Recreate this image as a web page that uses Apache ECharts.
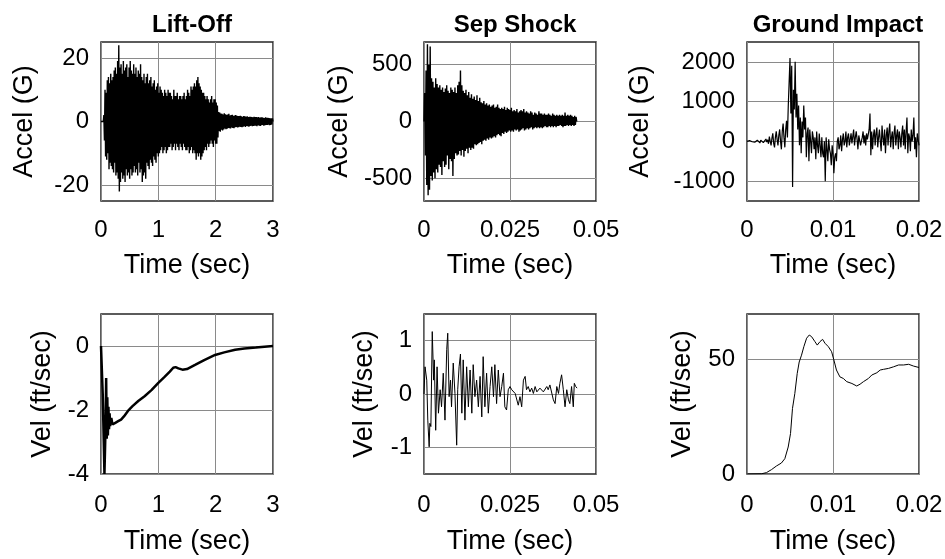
<!DOCTYPE html>
<html><head><meta charset="utf-8">
<script src="https://cdn.jsdelivr.net/npm/echarts@6/dist/echarts.min.js"></script>
<style>html,body{margin:0;padding:0;background:#fff}#c{width:945px;height:559px}</style>
</head><body><div id="c"></div>
<script>
// ---------- texts ----------
const titles = ['Lift-Off', 'Sep Shock', 'Ground Impact'];
const yNamesTop = 'Accel (G)';
const yNamesBottom = 'Vel (ft/sec)';
const xName = 'Time (sec)';

// ---------- axis ranges and tick labels ----------
const xRanges = [[0, 3], [0, 0.05], [0, 0.02]];
const xSteps = [1, 0.025, 0.01];
const yRangesTop = [[-25, 25], [-700, 700], [-1500, 2500]];
const yTicksTop = [[-20, 0, 20], [-500, 0, 500], [-1000, 0, 1000, 2000]];
const yRangesBottom = [[-4, 1], [-1.5, 1.5], [0, 70]];
const yTicksBottom = [[-4, -2, 0], [-1, 0, 1], [0, 50]];

// ---------- data ----------
// Lift-Off acceleration (G), sampled every 0.01 s from t = 0
const liftoffAccelDt = 0.01;
const liftoffAccel = [
  0, 0, 0, 0, 0, 2, -6, 10, -11, 9,
  -12, 13, -10, 14, -15, 12, -13, 15, -14, 13,
  -15, 14, -16, 16, -13, 17, -17, 15, -16, 19,
  -18, 24, -22, 17, -19, 18, -16, 15, -18, 19,
  -17, 16, -19, 17, -15, 18, -17, 14, -16, 17,
  -18, 19, -15, 16, -17, 15, -16, 18, -14, 15,
  -16, 17, -15, 14, -17, 16, -13, 15, -16, 18,
  -15, 14, -19, 13, -17, 15, -16, 12, -18, 14,
  -13, 15, -14, 12, -15, 13, -12, 14, -13, 11,
  -14, 12, -11, 13, -12, 10, -13, 11, -10, 12,
  -11, 9, -10, 11, -9, 10, -8, 9, -10, 8,
  -9, 10, -8, 9, -10, 8, -9, 10, -8, 9,
  -8, 9, -7, 8, -9, 7, -8, 10, -7, 8,
  -9, 8, -7, 9, -8, 7, -9, 8, -7, 8,
  -8, 7, -9, 8, -7, 9, -8, 7, -9, 8,
  -9, 10, -8, 9, -10, 8, -9, 11, -8, 10,
  -10, 11, -9, 12, -10, 11, -12, 13, -10, 14,
  -11, 12, -10, 11, -12, 10, -11, 9, -10, 9,
  -9, 8, -8, 7, -9, 8, -7, 7, -8, 6,
  -7, 7, -6, 8, -7, 6, -8, 7, -6, 7,
  -7, 6, -7, 5, -5, 3, -3, 2.8, -3.2, 2.5,
  -2.6, 2.4, -2.8, 2.2, -2.5, 2.6, -2.2, 2.3, -2.4, 2.1,
  -2.3, 2.2, -2.0, 2.4, -2.1, 1.9, -2.2, 2.0, -1.9, 2.1,
  -2.0, 1.8, -2.1, 1.9, -1.8, 2.0, -1.7, 1.8, -1.9, 1.7,
  -1.8, 1.7, -1.6, 1.8, -1.7, 1.6, -1.8, 1.5, -1.6, 1.7,
  -1.5, 1.6, -1.7, 1.5, -1.4, 1.6, -1.5, 1.4, -1.6, 1.5,
  -1.4, 1.5, -1.3, 1.4, -1.5, 1.3, -1.4, 1.5, -1.3, 1.4,
  -1.3, 1.4, -1.5, 1.3, -1.2, 1.4, -1.3, 1.2, -1.4, 1.3,
  -1.2, 1.3, -1.1, 1.2, -1.3, 1.1, -1.2, 1.3, -1.1, 1.2,
  -1.1, 1.2, -1.0, 1.1, -1.2, 1.0, -1.1, 1.0, -0.9, 1.0,
  0
];

// Sep Shock acceleration (G), sampled every 0.0002 s from t = 0
const sepAccelDt = 0.0002;
const sepAccel = [
  0, 250, -300, 450, -560, 680, -650, 500, -600, 660,
  -480, 380, -520, 350, -450, 300, -500, 380, -420, 330,
  -450, 300, -380, 320, -400, 280, -470, 300, -350, 260,
  -400, 290, -380, 320, -300, 270, -420, 250, -330, 300,
  -350, 280, -480, 260, -330, 300, -280, 250, -300, 320,
  -290, 350, -260, 450, -300, 320, -250, 270, -310, 250,
  -260, 280, -240, 230, -280, 260, -230, 210, -250, 240,
  -230, 200, -240, 220, -200, 190, -210, 230, -200, 180,
  -190, 210, -180, 170, -200, 160, -170, 180, -160, 150,
  -170, 160, -150, 140, -160, 150, -140, 130, -150, 140,
  -140, 150, -130, 120, -140, 130, -120, 150, -110, 120,
  -120, 110, -130, 120, -100, 110, -110, 130, -90, 100,
  -100, 120, -90, 110, -80, 100, -90, 120, -80, 90,
  -90, 100, -70, 90, -80, 110, -70, 80, -90, 90,
  -80, 100, -70, 90, -60, 110, -80, 80, -70, 90,
  -60, 80, -70, 70, -60, 90, -50, 80, -70, 60,
  -60, 80, -50, 70, -60, 60, -50, 90, -60, 70,
  -50, 70, -60, 60, -50, 70, -40, 60, -50, 60,
  -50, 70, -40, 60, -50, 50, -40, 70, -50, 60,
  -40, 50, -50, 60, -40, 50, -40, 60, -30, 50,
  -40, 60, -50, 50, -40, 80, -40, 50, -30, 60,
  -40, 50, -30, 60, -40, 50, -30, 40, -40, 50,
  -30, 40, 0
];

// Ground Impact acceleration (G), sampled every 0.0001 s from t = 0
const groundAccelDt = 0.0001;
const groundAccel = [
  0, 10, -20, 20, -30, 10, -10, -40, 20, -20, 10, -30, 30, -20, 10, -40, 30, -10, 20, -30,
  20, -40, 60, -20, 40, -60, 120, 0, -100, 80, 200, -50, -150, 100, 250, 50, -100, 150, 300, 0,
  -200, 250, 450, 100, -150, 300, 520, 100, 900, 1500, 2100, 700, 1900, -1150, 1300, 800, 2000, 600, 1200, 300,
  900, -100, 600, -300, 500, 100, 900, 300, 600, -400, 200, 350, -500, 300, 0, -300, 250, 100, -200, 100,
  -450, 250, -100, -300, 200, -100, -400, 100, -300, -400, 0, -1000, 100, -200, -500, 50, -200, -300, -600, -100,
  -300, -800, -400, -300, -500, 0, 100, -200, -100, 150, -250, 50, 200, -100, 0, 250, -150, 100, 200, -100,
  50, 200, -50, 0, 300, -100, 100, 250, 50, -200, 150, 200, -100, 0, 100, 250, -50, 150, -100, 200,
  50, 100, 300, 700, -350, 250, -200, 150, 300, -100, 200, 350, -150, 100, 300, 0, -250, 400, 100, -100,
  300, -300, 150, 350, -100, 250, 450, -150, 100, 250, -200, 200, 400, -100, 150, 300, -200, 250, 100, -150,
  200, 400, -100, 300, -200, 250, 600, -300, 200, 100, -250, 300, 0, 150, 600, -200, 100, -400, 200, 50, -100
];

// Lift-Off velocity (ft/sec): [time (s), vel]
const liftoffVel = [
  [0, 0], [0.03, -1.5], [0.06, -4.0], [0.08, -2.5], [0.09, -1.0], [0.1, -2.9], [0.11, -1.6], [0.12, -2.8],
  [0.13, -1.9], [0.14, -2.6], [0.15, -2.1], [0.16, -2.5], [0.18, -2.25], [0.2, -2.45], [0.25, -2.4],
  [0.3, -2.35], [0.35, -2.3], [0.4, -2.2], [0.47, -2.03], [0.55, -1.88], [0.65, -1.72], [0.76, -1.57],
  [0.88, -1.38], [1.0, -1.15], [1.1, -0.98], [1.2, -0.8], [1.26, -0.68], [1.3, -0.66], [1.35, -0.7],
  [1.42, -0.74], [1.5, -0.72], [1.64, -0.59], [1.8, -0.44], [1.99, -0.28], [2.15, -0.2], [2.34, -0.12],
  [2.5, -0.08], [2.7, -0.05], [2.85, -0.02], [3.0, 0]
];

// Sep Shock velocity (ft/sec): [time (s), vel]
const sepVel = [
  [0, 0], [0.0003, 0.51], [0.0008, 0.26], [0.0011, -0.49], [0.0015, -0.99], [0.0017, -0.55], [0.002, -0.61],
  [0.0024, 1.17], [0.0028, 0.26], [0.003, 0.64], [0.0034, -0.68], [0.0038, 0.51], [0.0042, -0.36],
  [0.0047, 0.08], [0.0051, -0.24], [0.0056, 0.39], [0.0061, -0.49], [0.0066, 0.83], [0.0069, 1.14],
  [0.0073, -0.05], [0.0077, 0.26], [0.008, -0.24], [0.0085, 0.58], [0.009, 0.01], [0.0095, -0.96],
  [0.0098, 0.08], [0.0102, 0.51], [0.0106, 0.75], [0.011, -0.36], [0.0114, 0.64], [0.0119, -0.49],
  [0.0124, 0.51], [0.0129, -0.24], [0.0134, 0.45], [0.0139, -0.36], [0.0143, 0.55], [0.0148, -0.05],
  [0.0153, 0.26], [0.0158, -0.24], [0.0163, 0.33], [0.0168, -0.43], [0.0172, 0.7], [0.0177, -0.24],
  [0.0182, 0.39], [0.0187, -0.36], [0.0192, 0.14], [0.0197, 0.51], [0.0202, -0.05], [0.0206, 0.55],
  [0.0211, -0.18], [0.0216, 0.45], [0.0221, -0.05], [0.0226, 0.14], [0.0231, 0.39], [0.0235, -0.24],
  [0.024, -0.3], [0.0245, 0.08], [0.025, 0.14], [0.0255, 0.08], [0.026, 0.11], [0.0265, 0.01],
  [0.0269, -0.02], [0.0274, -0.21], [0.0279, -0.05], [0.0284, -0.24], [0.0289, 0.26], [0.0294, 0.33],
  [0.0298, 0.08], [0.0303, 0.14], [0.0308, 0.04], [0.0313, 0.11], [0.0318, 0.01], [0.0323, 0.14],
  [0.0328, 0.04], [0.0332, 0.01], [0.0337, 0.11], [0.0342, 0.14], [0.0347, 0.04], [0.0352, 0.01],
  [0.0357, 0.14], [0.0361, 0.08], [0.0366, 0.17], [0.0371, 0.14], [0.0376, -0.11], [0.0381, -0.18],
  [0.0386, 0.14], [0.0391, 0.01], [0.0395, 0.2], [0.04, 0.36], [0.0405, 0.08], [0.041, -0.24],
  [0.0415, 0.08], [0.042, -0.11], [0.0424, -0.18], [0.0429, 0.14], [0.0434, -0.24], [0.0437, 0.2],
  [0.0441, 0.14], [0.0445, 0.11]
];

// Ground Impact velocity (ft/sec): [time (s), vel]
const groundVel = [
  [0, 0], [0.0017, 0.1], [0.00226, 0.6], [0.00284, 1.9], [0.00342, 3.5], [0.004, 4.8], [0.0044, 6.7],
  [0.00479, 11.8], [0.00506, 17.7], [0.00529, 28.7], [0.00556, 35.2], [0.00584, 44], [0.00607, 49],
  [0.00634, 52], [0.00661, 55.7], [0.00693, 59.4], [0.00724, 60.8], [0.00751, 60.1], [0.0079, 57.9],
  [0.00817, 56.4], [0.00848, 57.9], [0.00879, 58.9], [0.00907, 57.2], [0.00946, 55.7], [0.00984, 53.5],
  [0.0101, 49.9], [0.0104, 45.5], [0.0108, 42.5], [0.0112, 41.8], [0.0116, 40.4], [0.0122, 39.6],
  [0.01276, 38.5], [0.01315, 39.3], [0.01354, 40.4], [0.01412, 41.8], [0.01451, 43.3], [0.0151, 44.3],
  [0.01549, 45.5], [0.01588, 45.8], [0.01646, 46.2], [0.01704, 46.9], [0.01763, 47.7], [0.01821, 47.7],
  [0.0188, 48], [0.01938, 47.2], [0.02, 46.6]
];

// ---------- build ----------
const FONT = '"Liberation Sans", Arial, Helvetica, sans-serif';
const chart = echarts.init(document.getElementById('c'), null, {renderer: 'canvas'});

const gridBoxes = [
  {left: 101, top: 42, width: 172, height: 159},
  {left: 424, top: 42, width: 172, height: 159},
  {left: 747, top: 42, width: 172, height: 159},
  {left: 101, top: 314, width: 172, height: 160},
  {left: 424, top: 314, width: 172, height: 160},
  {left: 747, top: 314, width: 172, height: 160}
];
const yNameGaps = [63, 71, 93, 45, 46, 51];
const lineWidths = [1.4, 1.4, 1.2, 2.5, 1, 1];

const grid = gridBoxes.map(b => Object.assign({
  show: true, borderColor: '#262626', borderWidth: 1.5, backgroundColor: 'transparent',
  containLabel: false, outerBoundsMode: 'none'
}, b));

const fmt = v => String(v);
const xAxis = [], yAxis = [], series = [];
const seriesData = [
  liftoffAccel.map((v, i) => [i * liftoffAccelDt, v]),
  sepAccel.map((v, i) => [i * sepAccelDt, v]),
  groundAccel.map((v, i) => [i * groundAccelDt, v]),
  liftoffVel, sepVel, groundVel
];

for (let k = 0; k < 6; k++) {
  const col = k % 3, row = Math.floor(k / 3);
  xAxis.push({
    type: 'value', gridIndex: k, min: xRanges[col][0], max: xRanges[col][1], interval: xSteps[col],
    name: xName, nameLocation: 'middle', nameGap: row === 0 ? 51 : 54,
    nameTextStyle: {fontSize: 27, color: '#000', fontFamily: FONT},
    axisLine: {show: false}, axisTick: {show: false},
    axisLabel: {fontSize: 24, color: '#000', fontFamily: FONT, margin: row === 0 ? 17 : 19, formatter: fmt,
      showMinLabel: true, showMaxLabel: true},
    splitLine: {show: true, lineStyle: {color: '#8a8a8a', width: 1}}
  });
  const yr = row === 0 ? yRangesTop[col] : yRangesBottom[col];
  const yt = row === 0 ? yTicksTop[col] : yTicksBottom[col];
  yAxis.push({
    type: 'value', gridIndex: k, min: yr[0], max: yr[1],
    name: row === 0 ? yNamesTop : yNamesBottom, nameLocation: 'middle', nameGap: yNameGaps[k],
    nameTextStyle: {fontSize: 27, color: '#000', fontFamily: FONT},
    axisLine: {show: false},
    axisTick: {show: false, customValues: yt},
    axisLabel: {fontSize: 24, color: '#000', fontFamily: FONT, margin: 12, formatter: fmt, customValues: yt},
    splitLine: {show: true, lineStyle: {color: '#8a8a8a', width: 1}}
  });
  series.push({
    type: 'line', xAxisIndex: k, yAxisIndex: k, data: seriesData[k],
    showSymbol: false, symbol: 'none', animation: false, silent: true, sampling: undefined,
    lineStyle: {color: '#000', width: lineWidths[k], join: 'bevel'}, z: 5
  });
}

const title = titles.map((t, i) => ({
  text: t, left: gridBoxes[i].left + gridBoxes[i].width / 2, top: 8, textAlign: 'center',
  textStyle: {fontSize: 24, fontWeight: 'bold', color: '#000', fontFamily: FONT}
}));

chart.setOption({
  backgroundColor: '#fff', animation: false,
  title, grid, xAxis, yAxis, series
});
</script>
</body></html>
